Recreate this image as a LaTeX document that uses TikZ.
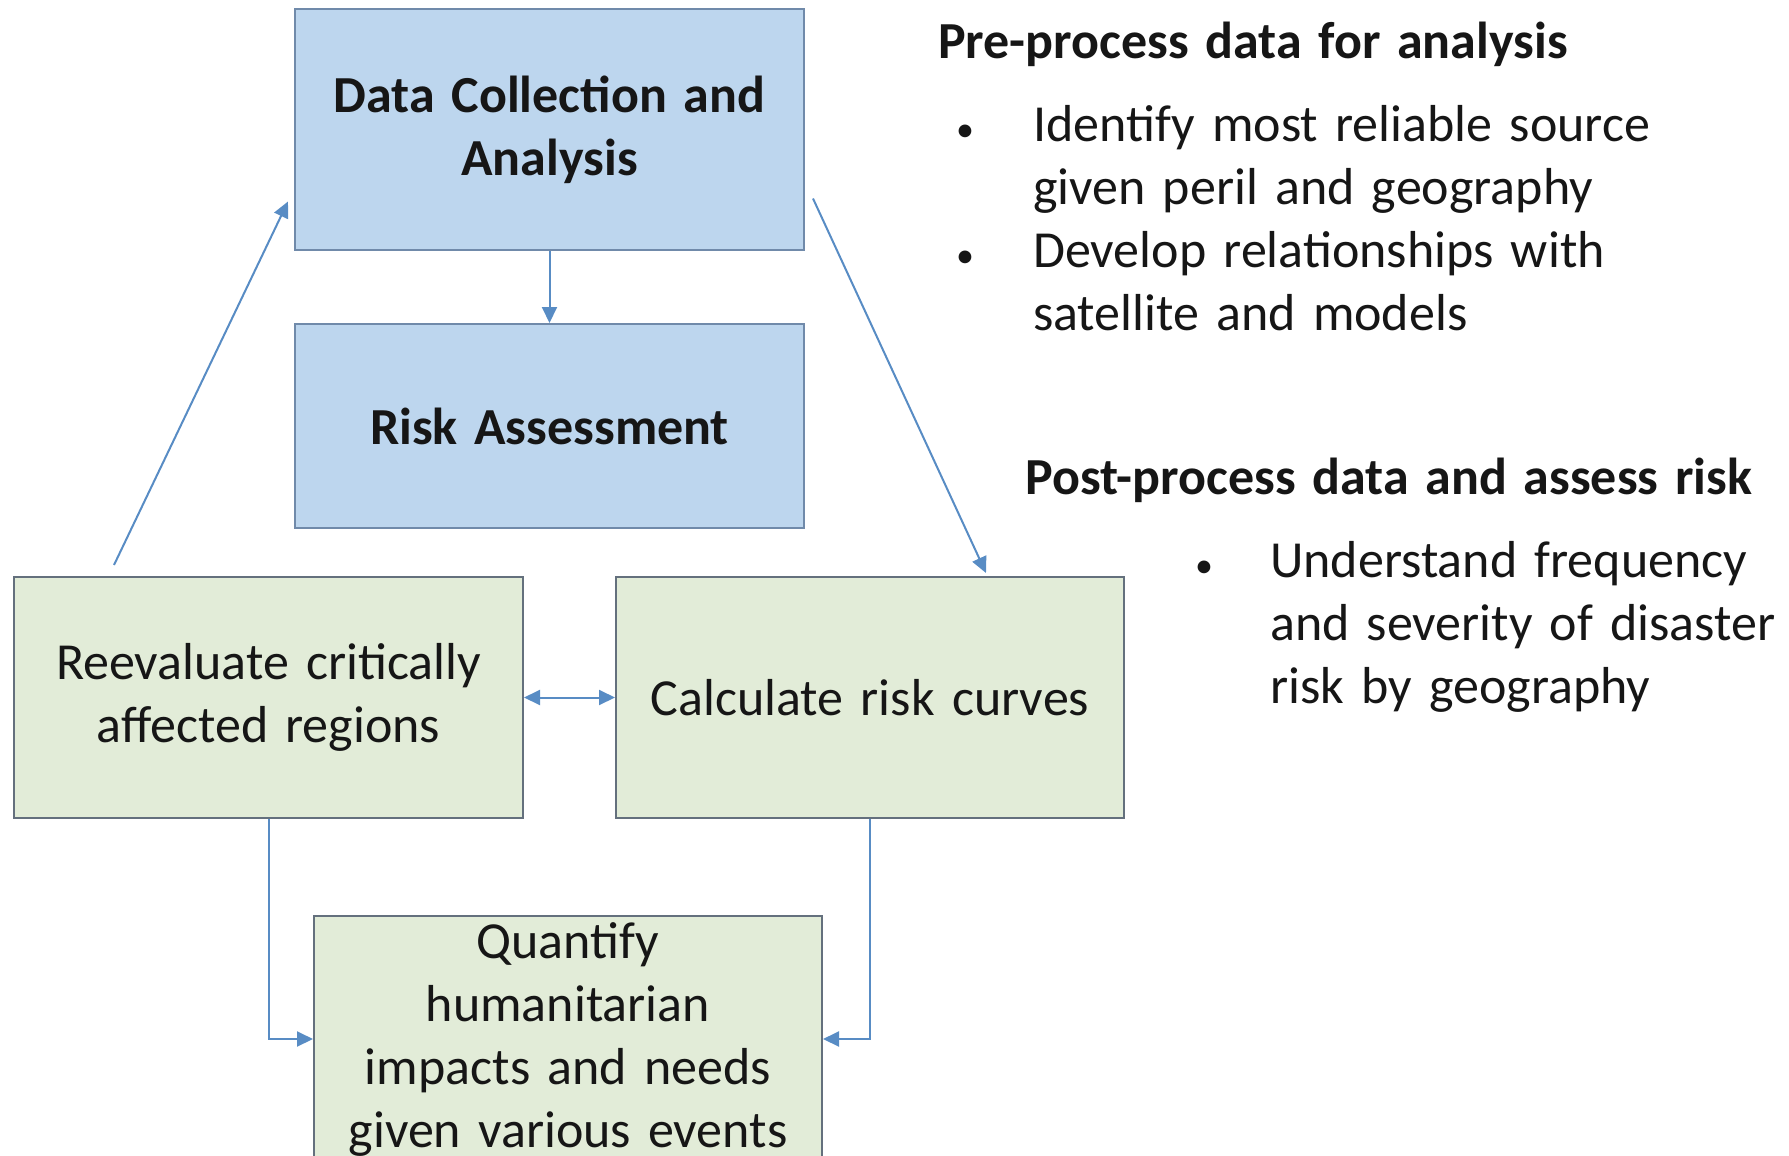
\documentclass[tikz,border=0pt]{standalone}
\usepackage{fontspec}
\setmainfont{Carlito}
\usetikzlibrary{arrows.meta,calc}
\definecolor{bluefill}{RGB}{189,214,238}
\definecolor{blueedge}{RGB}{112,138,170}
\definecolor{greenfill}{RGB}{226,236,216}
\definecolor{greenedge}{RGB}{100,112,125}
\definecolor{arrowblue}{RGB}{88,140,196}
\definecolor{ink}{RGB}{22,22,22}
% slightly wider word gaps
\newcommand{\bodyfont}{\fontsize{52}{63}\selectfont\spaceskip=0.33em plus 0.05em\relax}
\newcommand{\boldbody}{\fontsize{52}{63}\selectfont\bfseries\spaceskip=0.32em plus 0.05em\relax}
\begin{document}
\begin{tikzpicture}[x=1pt,y=-1pt,
  headtxt/.style={font=\boldbody, text=ink, anchor=base west, inner sep=0pt},
  linetxt/.style={font=\bodyfont, text=ink, anchor=base west, inner sep=0pt},
  bullettxt/.style={font=\fontsize{36}{63}\selectfont, text=ink, anchor=base, inner sep=0pt},
  bluebox/.style={draw=blueedge, fill=bluefill, line width=2pt, align=center, inner sep=0pt,
    text=ink, font=\boldbody},
  greenbox/.style={draw=greenedge, fill=greenfill, line width=2pt, align=center, inner sep=0pt,
    text=ink, font=\bodyfont},
  arr/.style={draw=arrowblue, line width=2pt, -{Triangle[length=16pt,width=15pt]}},
  dblarr/.style={draw=arrowblue, line width=2pt, {Triangle[length=16pt,width=15pt]}-{Triangle[length=16pt,width=15pt]}},
]
\useasboundingbox (0,0) rectangle (1789,1156);
\clip (0,0) rectangle (1789,1156);

% process boxes
\node[bluebox, minimum width=509pt, minimum height=241pt] (dc) at (549.5,129.5)
  {Data Collection and\\Analysis};
\node[bluebox, minimum width=509pt, minimum height=204pt] (ra) at (549.5,426)
  {Risk Assessment};
\node[greenbox, minimum width=509pt, minimum height=241pt] (re) at (268.5,697.5)
  {Reevaluate critically\\affected regions};
\node[greenbox, minimum width=508pt, minimum height=241pt] (cc) at (870,697.5)
  {Calculate risk curves};
\node[greenbox, minimum width=508pt, minimum height=246pt] (qh) at (568,1039)
  {Quantify\\humanitarian\\impacts and needs\\given various events};

% connectors
\draw[arr] (dc.south) -- (ra.north);
\draw[arr] ([xshift=101pt,yshift=11pt]re.north west) -- ([xshift=-6pt,yshift=-72pt]dc.west);
\draw[arr] ([xshift=8pt,yshift=-69pt]dc.east) -- ([xshift=371pt,yshift=3pt]cc.north west);
\draw[dblarr] (re.east) -- (cc.west);
\draw[arr] (re.south) |- (qh.west);
\draw[arr] (cc.south) |- (qh.east);

% side notes
\node[headtxt] (h1) at (938,59) {Pre-process data for analysis};
\node[bullettxt] (b1) at (965,141) {•};
\node[linetxt] (l1) at (1033,141) {Identify most reliable source};
\node[linetxt] (l2) at (1033,204) {given peril and geography};
\node[bullettxt] (b2) at (965,267) {•};
\node[linetxt] (l3) at (1033,267) {Develop relationships with};
\node[linetxt] (l4) at (1033,330) {satellite and models};

\node[headtxt] (h2) at (1025,494) {Post-process data and assess risk};
\node[bullettxt] (b3) at (1204,577) {•};
\node[linetxt] (l5) at (1270,577) {Understand frequency};
\node[linetxt] (l6) at (1270,640) {and severity of disaster};
\node[linetxt] (l7) at (1270,703) {risk by geography};
\end{tikzpicture}
\end{document}
